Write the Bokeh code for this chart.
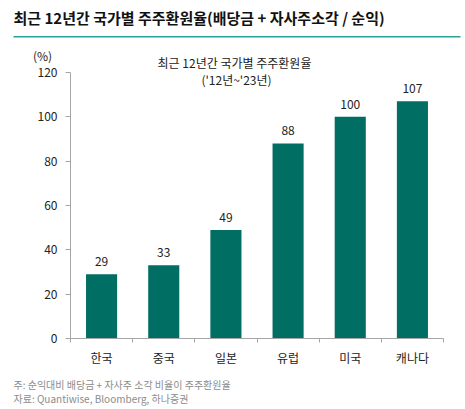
import numpy as np
from bokeh.plotting import figure
from bokeh.models import (Label, ColumnDataSource, FixedTicker, LinearAxis, Range1d, BoxAnnotation)
from bokeh.core.properties import value
from bokeh.embed import file_html
from bokeh.resources import INLINE

countries = ["한국", "중국", "일본", "유럽", "미국", "캐나다"]
payout = [29, 33, 49, 88, 100, 107]
y_ticks = [0, 20, 40, 60, 80, 100, 120]

FONT = "Noto Sans CJK KR"
BAR = "#006E62"
TEAL = "#2AA198"
AXIS = "#A6A6A6"
TXT = "#222222"
NOTE = "#8C8C8C"

# canvas size and where the plotting area sits inside it (pixels)
W, H = 465, 409
AX_L, AX_R, AX_T, AX_B = 70, 443, 72, 338
Y_MAX = 120

n = len(countries)
slot_x = np.arange(n) + 0.5          # centre of each country slot
edge_x = list(range(n + 1))          # slot boundaries

# the frame covers the whole canvas; the data box is mapped onto the inner area
px_x = (AX_R - AX_L) / n
px_y = (AX_B - AX_T) / Y_MAX
x_range = Range1d(-AX_L / px_x, n + (W - AX_R) / px_x)
y_range = Range1d(-(H - AX_B) / px_y, Y_MAX + AX_T / px_y)

src = ColumnDataSource(dict(x=slot_x, top=payout, lab=[str(v) for v in payout]))

p = figure(x_range=x_range, y_range=y_range, width=W, height=H,
           x_axis_type=None, y_axis_type=None,
           output_backend="svg", toolbar_location=None,
           min_border=0, min_border_left=0, min_border_right=0,
           min_border_top=0, min_border_bottom=0)
p.outline_line_color = None
p.background_fill_color = "white"
p.border_fill_color = "white"

p.vbar(x="x", top="top", width=0.5, source=src, fill_color=BAR, line_color=None)
p.text(x="x", y="top", text="lab", source=src, y_offset=-8,
       text_align="center", text_baseline="bottom", text_font_size="12px",
       text_color=TXT, text_font=value(FONT))

# y axis drawn at the left edge of the data box
yaxis = LinearAxis(fixed_location=0, bounds=(0, Y_MAX), ticker=FixedTicker(ticks=y_ticks))
yaxis.axis_line_color = AXIS
yaxis.major_tick_line_color = AXIS
yaxis.minor_tick_line_color = None
yaxis.major_tick_out = 5
yaxis.major_tick_in = 0
yaxis.major_label_standoff = 8
yaxis.major_label_text_font = FONT
yaxis.major_label_text_font_size = "12px"
yaxis.major_label_text_color = TXT
p.add_layout(yaxis, "left")

# x axis: country names at slot centres, small ticks on slot edges
xaxis = LinearAxis(fixed_location=0, bounds=(0, n),
                   ticker=FixedTicker(ticks=list(slot_x), minor_ticks=edge_x))
xaxis.major_label_overrides = {float(x): c for x, c in zip(slot_x, countries)}
xaxis.axis_line_color = AXIS
xaxis.major_tick_line_color = None
xaxis.major_tick_out = 4
xaxis.minor_tick_line_color = AXIS
xaxis.minor_tick_out = 4
xaxis.minor_tick_in = 0
xaxis.major_label_standoff = 6
xaxis.major_label_text_font = FONT
xaxis.major_label_text_font_size = "12px"
xaxis.major_label_text_color = TXT
p.add_layout(xaxis, "below")

# rule under the heading
p.add_layout(BoxAnnotation(left=13, right=460, bottom=H - 37, top=H - 35.5,
                           left_units="screen", right_units="screen",
                           bottom_units="screen", top_units="screen",
                           fill_color=TEAL, fill_alpha=1, line_color=None))

def put(text, cx, cy, size, color=TXT, align="left", style="normal"):
    # cx, cy: position measured from the top-left corner of the canvas
    p.add_layout(Label(x=cx, y=H - cy, x_units="screen", y_units="screen", text=text,
                       text_font=FONT, text_font_size=size, text_font_style=style,
                       text_align=align, text_baseline="middle", text_color=color))

put("최근 12년간 국가별 주주환원율(배당금 + 자사주소각 / 순익)", 13, 17, "15px", "#111111", style="bold")
put("최근 12년간 국가별 주주환원율", 234, 62, "12px", align="center")
put("('12년~'23년)", 236, 79, "12px", align="center")
put("(%)", 42, 55, "12px", align="center")
put("주: 순익대비 배당금 + 자사주 소각 비율이 주주환원율", 13, 384, "10px", NOTE)
put("자료: Quantiwise, Bloomberg, 하나증권", 13, 398, "10px", NOTE)

open("out.html", "w").write(file_html(p, INLINE))
